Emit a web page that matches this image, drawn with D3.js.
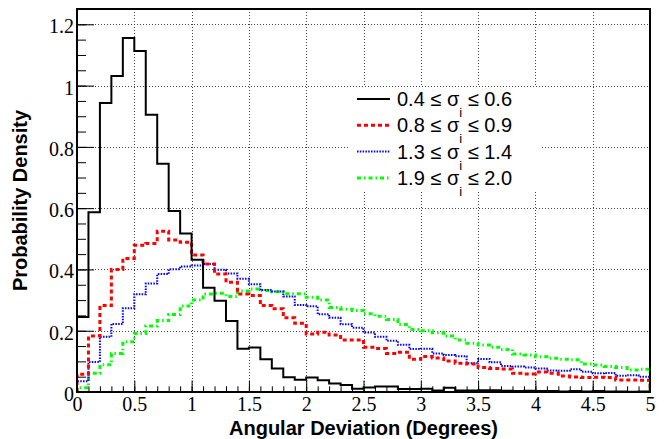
<!DOCTYPE html>
<html>
<head>
<meta charset="utf-8">
<script src="https://cdn.jsdelivr.net/npm/d3@7"></script>
<style>
  html, body { margin: 0; padding: 0; background: #fff; }
  svg { display: block; }
</style>
</head>
<body>
<svg id="chart" width="665" height="439"></svg>
<script>
// Angular deviation distributions, 50 bins of 0.1 degree from 0 to 5
const binWidth = 0.1;
const binCount = 50;

const sigma04to06 = [
  0.245, 0.587, 0.943, 1.031, 1.155, 1.113, 0.905, 0.745, 0.591, 0.517,
  0.432, 0.340, 0.298, 0.232, 0.141, 0.145, 0.107, 0.077, 0.048, 0.040,
  0.047, 0.038, 0.028, 0.023, 0.011, 0.015, 0.018, 0.018, 0.010, 0.010,
  0.011, 0.005, 0.014, 0.005, 0.005, 0.006, 0.006, 0.004, 0.003, 0.004,
  0.003, 0.003, 0.002, 0.003, 0.002, 0.003, 0.002, 0.002, 0.001, 0.002
];
const sigma08to09 = [
  0.058, 0.183, 0.282, 0.400, 0.436, 0.479, 0.485, 0.525, 0.496, 0.489,
  0.447, 0.418, 0.385, 0.358, 0.320, 0.315, 0.282, 0.272, 0.242, 0.224,
  0.189, 0.195, 0.186, 0.170, 0.170, 0.146, 0.142, 0.126, 0.130, 0.107,
  0.116, 0.111, 0.101, 0.094, 0.091, 0.080, 0.077, 0.075, 0.061, 0.059,
  0.065, 0.061, 0.052, 0.049, 0.047, 0.048, 0.047, 0.039, 0.039, 0.038
];
const sigma13to14 = [
  0.035, 0.098, 0.180, 0.222, 0.273, 0.319, 0.354, 0.385, 0.401, 0.410,
  0.413, 0.418, 0.399, 0.387, 0.370, 0.352, 0.333, 0.328, 0.312, 0.284,
  0.280, 0.254, 0.242, 0.221, 0.210, 0.194, 0.180, 0.167, 0.154, 0.140,
  0.141, 0.126, 0.121, 0.117, 0.094, 0.108, 0.097, 0.085, 0.083, 0.080,
  0.077, 0.070, 0.069, 0.074, 0.066, 0.061, 0.062, 0.053, 0.055, 0.050
];
const sigma19to20 = [
  0.014, 0.061, 0.089, 0.126, 0.164, 0.191, 0.215, 0.233, 0.253, 0.281,
  0.300, 0.320, 0.322, 0.312, 0.330, 0.336, 0.331, 0.327, 0.321, 0.321,
  0.309, 0.300, 0.276, 0.270, 0.266, 0.255, 0.247, 0.237, 0.220, 0.204,
  0.200, 0.193, 0.183, 0.170, 0.159, 0.153, 0.146, 0.139, 0.124, 0.121,
  0.115, 0.110, 0.107, 0.105, 0.091, 0.088, 0.083, 0.080, 0.072, 0.074
];

const seriesLabels = [
  ["0.4", "0.6"],
  ["0.8", "0.9"],
  ["1.3", "1.4"],
  ["1.9", "2.0"]
];

const xTickValues = [0, 0.5, 1, 1.5, 2, 2.5, 3, 3.5, 4, 4.5, 5];
const xTickLabels = ["0", "0.5", "1", "1.5", "2", "2.5", "3", "3.5", "4", "4.5", "5"];
const yTickValues = [0, 0.2, 0.4, 0.6, 0.8, 1, 1.2];
const yTickLabels = ["0", "0.2", "0.4", "0.6", "0.8", "1", "1.2"];

const xTitle = "Angular Deviation (Degrees)";
const yTitle = "Probability Density";

// line styles per series
const styles = [
  { color: "#000000", width: 2, dash: null },
  { color: "#ff0000", width: 3, dash: "4,3" },
  { color: "#0000ff", width: 2, dash: "1.5,1.3" },
  { color: "#00ff00", width: 3, dash: "4,3,1.5,3" }
];

const allSeries = [sigma04to06, sigma08to09, sigma13to14, sigma19to20];

// ---- layout ----
const frame = { left: 77, right: 650, top: 9, bottom: 392 };
const x = d3.scaleLinear().domain([0, 5]).range([frame.left, frame.right]);
const y = d3.scaleLinear().domain([0, 1.25]).range([frame.bottom, frame.top]);

const svg = d3.select("#chart");
const serif = "'Liberation Serif', 'Times New Roman', serif";
const sans = "'Liberation Sans', Arial, Helvetica, sans-serif";

svg.append("defs").append("clipPath").attr("id", "frameClip")
  .append("rect")
  .attr("x", frame.left).attr("y", frame.top)
  .attr("width", frame.right - frame.left).attr("height", frame.bottom - frame.top);

// ---- grid ----
const grid = svg.append("g").attr("stroke", "#444").attr("stroke-width", 1)
  .attr("stroke-dasharray", "1,2").attr("shape-rendering", "crispEdges");
grid.selectAll("line.gx").data(xTickValues.slice(1, -1)).join("line")
  .attr("class", "gx")
  .attr("x1", d => Math.round(x(d)) + 0.5).attr("x2", d => Math.round(x(d)) + 0.5)
  .attr("y1", frame.top).attr("y2", frame.bottom);
grid.selectAll("line.gy").data(yTickValues.slice(1)).join("line")
  .attr("class", "gy")
  .attr("y1", d => Math.round(y(d)) + 0.5).attr("y2", d => Math.round(y(d)) + 0.5)
  .attr("x1", frame.left).attr("x2", frame.right);

// ---- histograms ----
const step = d3.line().x(d => x(d[0])).y(d => y(d[1])).curve(d3.curveStepAfter);
function histPoints(vals) {
  const pts = [[0, 0]];
  vals.forEach((v, i) => pts.push([i * binWidth, v]));
  pts.push([binCount * binWidth, vals[vals.length - 1]]);
  pts.push([binCount * binWidth, 0]);
  return pts;
}
const plot = svg.append("g").attr("clip-path", "url(#frameClip)");
// draw in reverse so the black curve sits on top
allSeries.map((s, i) => i).reverse().forEach(i => {
  plot.append("path")
    .attr("d", step(histPoints(allSeries[i])))
    .attr("fill", "none")
    .attr("stroke", styles[i].color)
    .attr("stroke-width", styles[i].width)
    .attr("stroke-dasharray", styles[i].dash)
    .attr("stroke-linejoin", "miter");
});

// ---- axes ----
const xMinor = d3.range(0, 5.0001, 0.1).map(v => +v.toFixed(2));
const yMinor = d3.range(0, 1.2501, 0.05).map(v => +v.toFixed(2));

const xAxis = d3.axisBottom(x).tickValues(xTickValues)
  .tickFormat((d, i) => xTickLabels[i]).tickSizeInner(-11.5).tickSizeOuter(0).tickPadding(8);
const gx = svg.append("g").attr("transform", `translate(0,${frame.bottom})`).call(xAxis);
gx.attr("font-family", null);
gx.select(".domain").remove();
gx.selectAll(".tick line").attr("stroke", "#000").attr("stroke-width", 1);
gx.selectAll(".tick text").style("font-family", serif).style("font-size", "20px")
  .attr("fill", "#000").attr("dy", "0.55em");

const xMinorAxis = d3.axisBottom(x).tickValues(xMinor).tickFormat("")
  .tickSizeInner(-5.7).tickSizeOuter(0);
const gxm = svg.append("g").attr("transform", `translate(0,${frame.bottom})`).call(xMinorAxis);
gxm.select(".domain").remove();
gxm.selectAll(".tick line").attr("stroke", "#000").attr("stroke-width", 1);

const yAxis = d3.axisLeft(y).tickValues(yTickValues)
  .tickFormat((d, i) => yTickLabels[i]).tickSizeInner(-17).tickSizeOuter(0).tickPadding(3);
const gy = svg.append("g").attr("transform", `translate(${frame.left},0)`).call(yAxis);
gy.attr("font-family", null);
gy.select(".domain").remove();
gy.selectAll(".tick line").attr("stroke", "#000").attr("stroke-width", 1);
gy.selectAll(".tick text").style("font-family", serif).style("font-size", "20px")
  .attr("fill", "#000").attr("dy", "0.42em");

const yMinorAxis = d3.axisLeft(y).tickValues(yMinor).tickFormat("")
  .tickSizeInner(-9).tickSizeOuter(0);
const gym = svg.append("g").attr("transform", `translate(${frame.left},0)`).call(yMinorAxis);
gym.select(".domain").remove();
gym.selectAll(".tick line").attr("stroke", "#000").attr("stroke-width", 1);

// frame
svg.append("rect")
  .attr("x", frame.left).attr("y", frame.top)
  .attr("width", frame.right - frame.left).attr("height", frame.bottom - frame.top)
  .attr("fill", "none").attr("stroke", "#000").attr("stroke-width", 2);

// axis titles
svg.append("text")
  .attr("x", (frame.left + frame.right) / 2).attr("y", 435)
  .attr("text-anchor", "middle")
  .style("font-family", sans).attr("font-weight", "bold").attr("font-size", 20)
  .text(xTitle);
svg.append("text")
  .attr("transform", `translate(27,${(frame.top + frame.bottom) / 2}) rotate(-90)`)
  .attr("text-anchor", "middle")
  .style("font-family", sans).attr("font-weight", "bold").attr("font-size", 20)
  .text(yTitle);

// ---- legend ----
const legend = svg.append("g");
legend.append("rect")
  .attr("x", 350).attr("y", 87).attr("width", 190).attr("height", 103)
  .attr("fill", "#fff");
const rowY = i => 99 + i * 26.3;
seriesLabels.forEach((lab, i) => {
  legend.append("line")
    .attr("x1", 357).attr("x2", 390).attr("y1", rowY(i)).attr("y2", rowY(i))
    .attr("stroke", styles[i].color).attr("stroke-width", styles[i].width)
    .attr("stroke-dasharray", styles[i].dash);
  const t = legend.append("text")
    .attr("x", 397).attr("y", rowY(i) + 7)
    .style("font-family", sans).attr("font-size", 20).attr("fill", "#000");
  t.append("tspan").text(`${lab[0]} \u2264 \u03c3`);
  t.append("tspan").attr("font-size", 13).attr("dy", 11).text("i");
  t.append("tspan").attr("dy", -11).text(` \u2264 ${lab[1]}`);
});
</script>
</body>
</html>
